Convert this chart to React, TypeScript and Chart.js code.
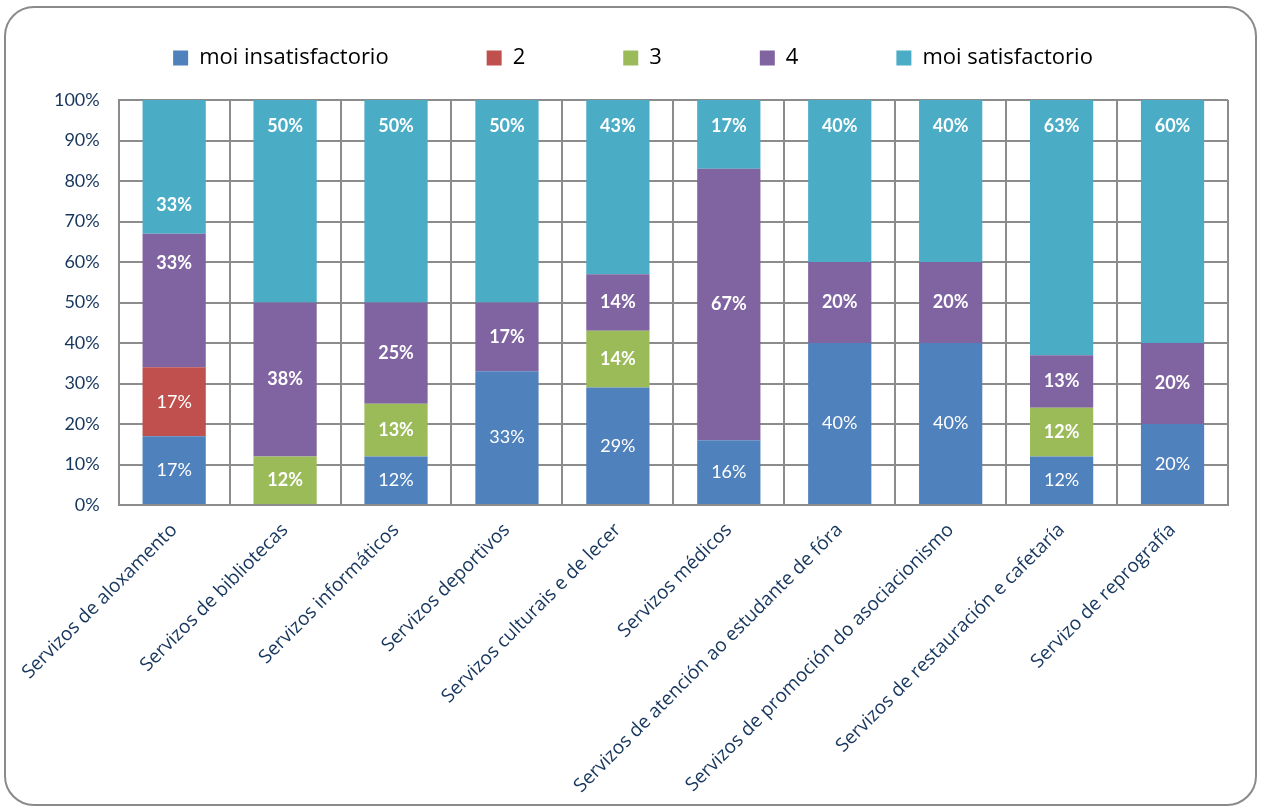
import React, { useEffect, useRef } from 'react';
import { Chart, registerables } from 'chart.js';

Chart.register(...registerables);

const categories = [
  'Servizos de aloxamento',
  'Servizos de bibliotecas',
  'Servizos informáticos',
  'Servizos deportivos',
  'Servizos culturais e de lecer',
  'Servizos médicos',
  'Servizos de atención ao estudante de fóra',
  'Servizos de promoción do asociacionismo',
  'Servizos de restauración e cafetaría',
  'Servizo de reprografía',
];

const seriesNames = ['moi insatisfactorio', '2', '3', '4', 'moi satisfactorio'];

const moiInsatisfactorio = [17, 0, 12, 33, 29, 16, 40, 40, 12, 20];
const valor2 = [17, 0, 0, 0, 0, 0, 0, 0, 0, 0];
const valor3 = [0, 12, 13, 0, 14, 0, 0, 0, 12, 0];
const valor4 = [33, 38, 25, 17, 14, 67, 20, 20, 13, 20];
const moiSatisfactorio = [33, 50, 50, 50, 43, 17, 40, 40, 63, 60];

const yTickValues = [0, 10, 20, 30, 40, 50, 60, 70, 80, 90, 100];

const seriesColors = ['#4F81BD', '#C0504D', '#9BBB59', '#8064A2', '#4BACC6'];
const boldLabels = [false, false, true, true, true];

// label placement style (value-units) for manually moved labels in the first column
const labelOverrides: Record<string, number> = { '3-0': 59.8, '4-0': 74 };

const FONT = 'Lato, "Open Sans", "DejaVu Sans", sans-serif';
const WIDE_FONT = '"Open Sans", Lato, "DejaVu Sans", sans-serif';
const AXIS_TEXT = '#17365D';
const GRID = '#8C8C8C';

const segLabelPlugin = {
  id: 'segLabels',
  afterDatasetsDraw(chart: any) {
    const ctx = chart.ctx;
    const yScale = chart.scales.y;
    const n = chart.data.datasets.length;
    ctx.save();
    ctx.fillStyle = '#FFFFFF';
    ctx.textAlign = 'center';
    ctx.textBaseline = 'middle';
    chart.data.datasets.forEach((ds: any, di: number) => {
      const meta = chart.getDatasetMeta(di);
      meta.data.forEach((el: any, i: number) => {
        const v = ds.data[i];
        if (!v) return;
        const p = el.getProps(['x', 'y', 'base'], true);
        let ty = (p.y + p.base) / 2;
        if (di === n - 1) ty = p.y + 26;
        const key = `${di}-${i}`;
        if (labelOverrides[key] !== undefined) ty = yScale.getPixelForValue(labelOverrides[key]);
        ctx.font = `${boldLabels[di] ? 'bold ' : ''}18px ${FONT}`;
        ctx.fillText(`${Math.round(v)}%`, p.x, ty);
      });
    });
    ctx.restore();
  },
};

const legendHeightPlugin = {
  id: 'legendHeight',
  beforeInit(chart: any) {
    const legend = chart.legend;
    if (!legend) return;
    const orig = legend.fit;
    legend.fit = function () {
      orig.call(this);
      this.height = 63;
    };
  },
};

export default function App() {
  const canvasRef = useRef<HTMLCanvasElement | null>(null);

  useEffect(() => {
    if (!canvasRef.current) return;
    Chart.defaults.font.family = FONT;
    const seriesData = [moiInsatisfactorio, valor2, valor3, valor4, moiSatisfactorio];
    const chart = new Chart(canvasRef.current, {
      type: 'bar',
      data: {
        labels: categories,
        datasets: seriesNames.map((name, i) => ({
          label: name,
          data: seriesData[i],
          backgroundColor: seriesColors[i],
          borderWidth: 0,
          categoryPercentage: 1,
          barPercentage: 0.57,
        })),
      },
      options: {
        animation: false,
        responsive: true,
        maintainAspectRatio: false,
        layout: { padding: { top: 29, left: 32, right: 27, bottom: 9 } },
        plugins: {
          tooltip: { enabled: false },
          legend: {
            position: 'top',
            labels: {
              boxWidth: 15,
              boxHeight: 15,
              padding: 10,
              color: '#000000',
              font: { size: 22, family: WIDE_FONT },
              generateLabels(chart: any) {
                const items = Chart.defaults.plugins.legend.labels.generateLabels(chart);
                return items.map((it: any, idx: number) => ({
                  ...it,
                  text: idx < items.length - 1 ? it.text + '\u2003\u2003\u2003\u2003' : it.text,
                  lineWidth: 0,
                }));
              },
            },
          },
        },
        scales: {
          x: {
            stacked: true,
            grid: { display: true, color: GRID, lineWidth: 2, drawTicks: false, offset: true },
            border: { display: true, color: GRID, width: 2 },
            ticks: {
              autoSkip: false,
              maxRotation: 45,
              minRotation: 45,
              color: AXIS_TEXT,
              padding: 14,
              font: { size: 19, family: WIDE_FONT },
            },
            afterFit(scale: any) {
              scale.height = 290;
            },
          },
          y: {
            stacked: true,
            min: 0,
            max: 100,
            grid: { color: GRID, lineWidth: 2, drawTicks: false },
            border: { display: true, color: GRID, width: 2 },
            afterBuildTicks(scale: any) {
              scale.ticks = yTickValues.map((v) => ({ value: v }));
            },
            ticks: {
              color: AXIS_TEXT,
              padding: 19,
              font: { size: 18, family: FONT },
              callback: (v: any) => `${v}%`,
            },
            afterFit(scale: any) {
              scale.width = 80;
            },
          },
        },
      },
      plugins: [segLabelPlugin, legendHeightPlugin],
    });
    return () => chart.destroy();
  }, []);

  return (
    <div
      style={{
        position: 'absolute',
        left: 4,
        top: 6,
        width: 1253,
        height: 800,
        border: '2px solid #8A8A8A',
        borderRadius: 30,
        boxSizing: 'border-box',
        background: '#FFFFFF',
        overflow: 'hidden',
      }}
    >
      <div style={{ position: 'relative', width: 1249, height: 796 }}>
        <canvas ref={canvasRef} />
      </div>
    </div>
  );
}
